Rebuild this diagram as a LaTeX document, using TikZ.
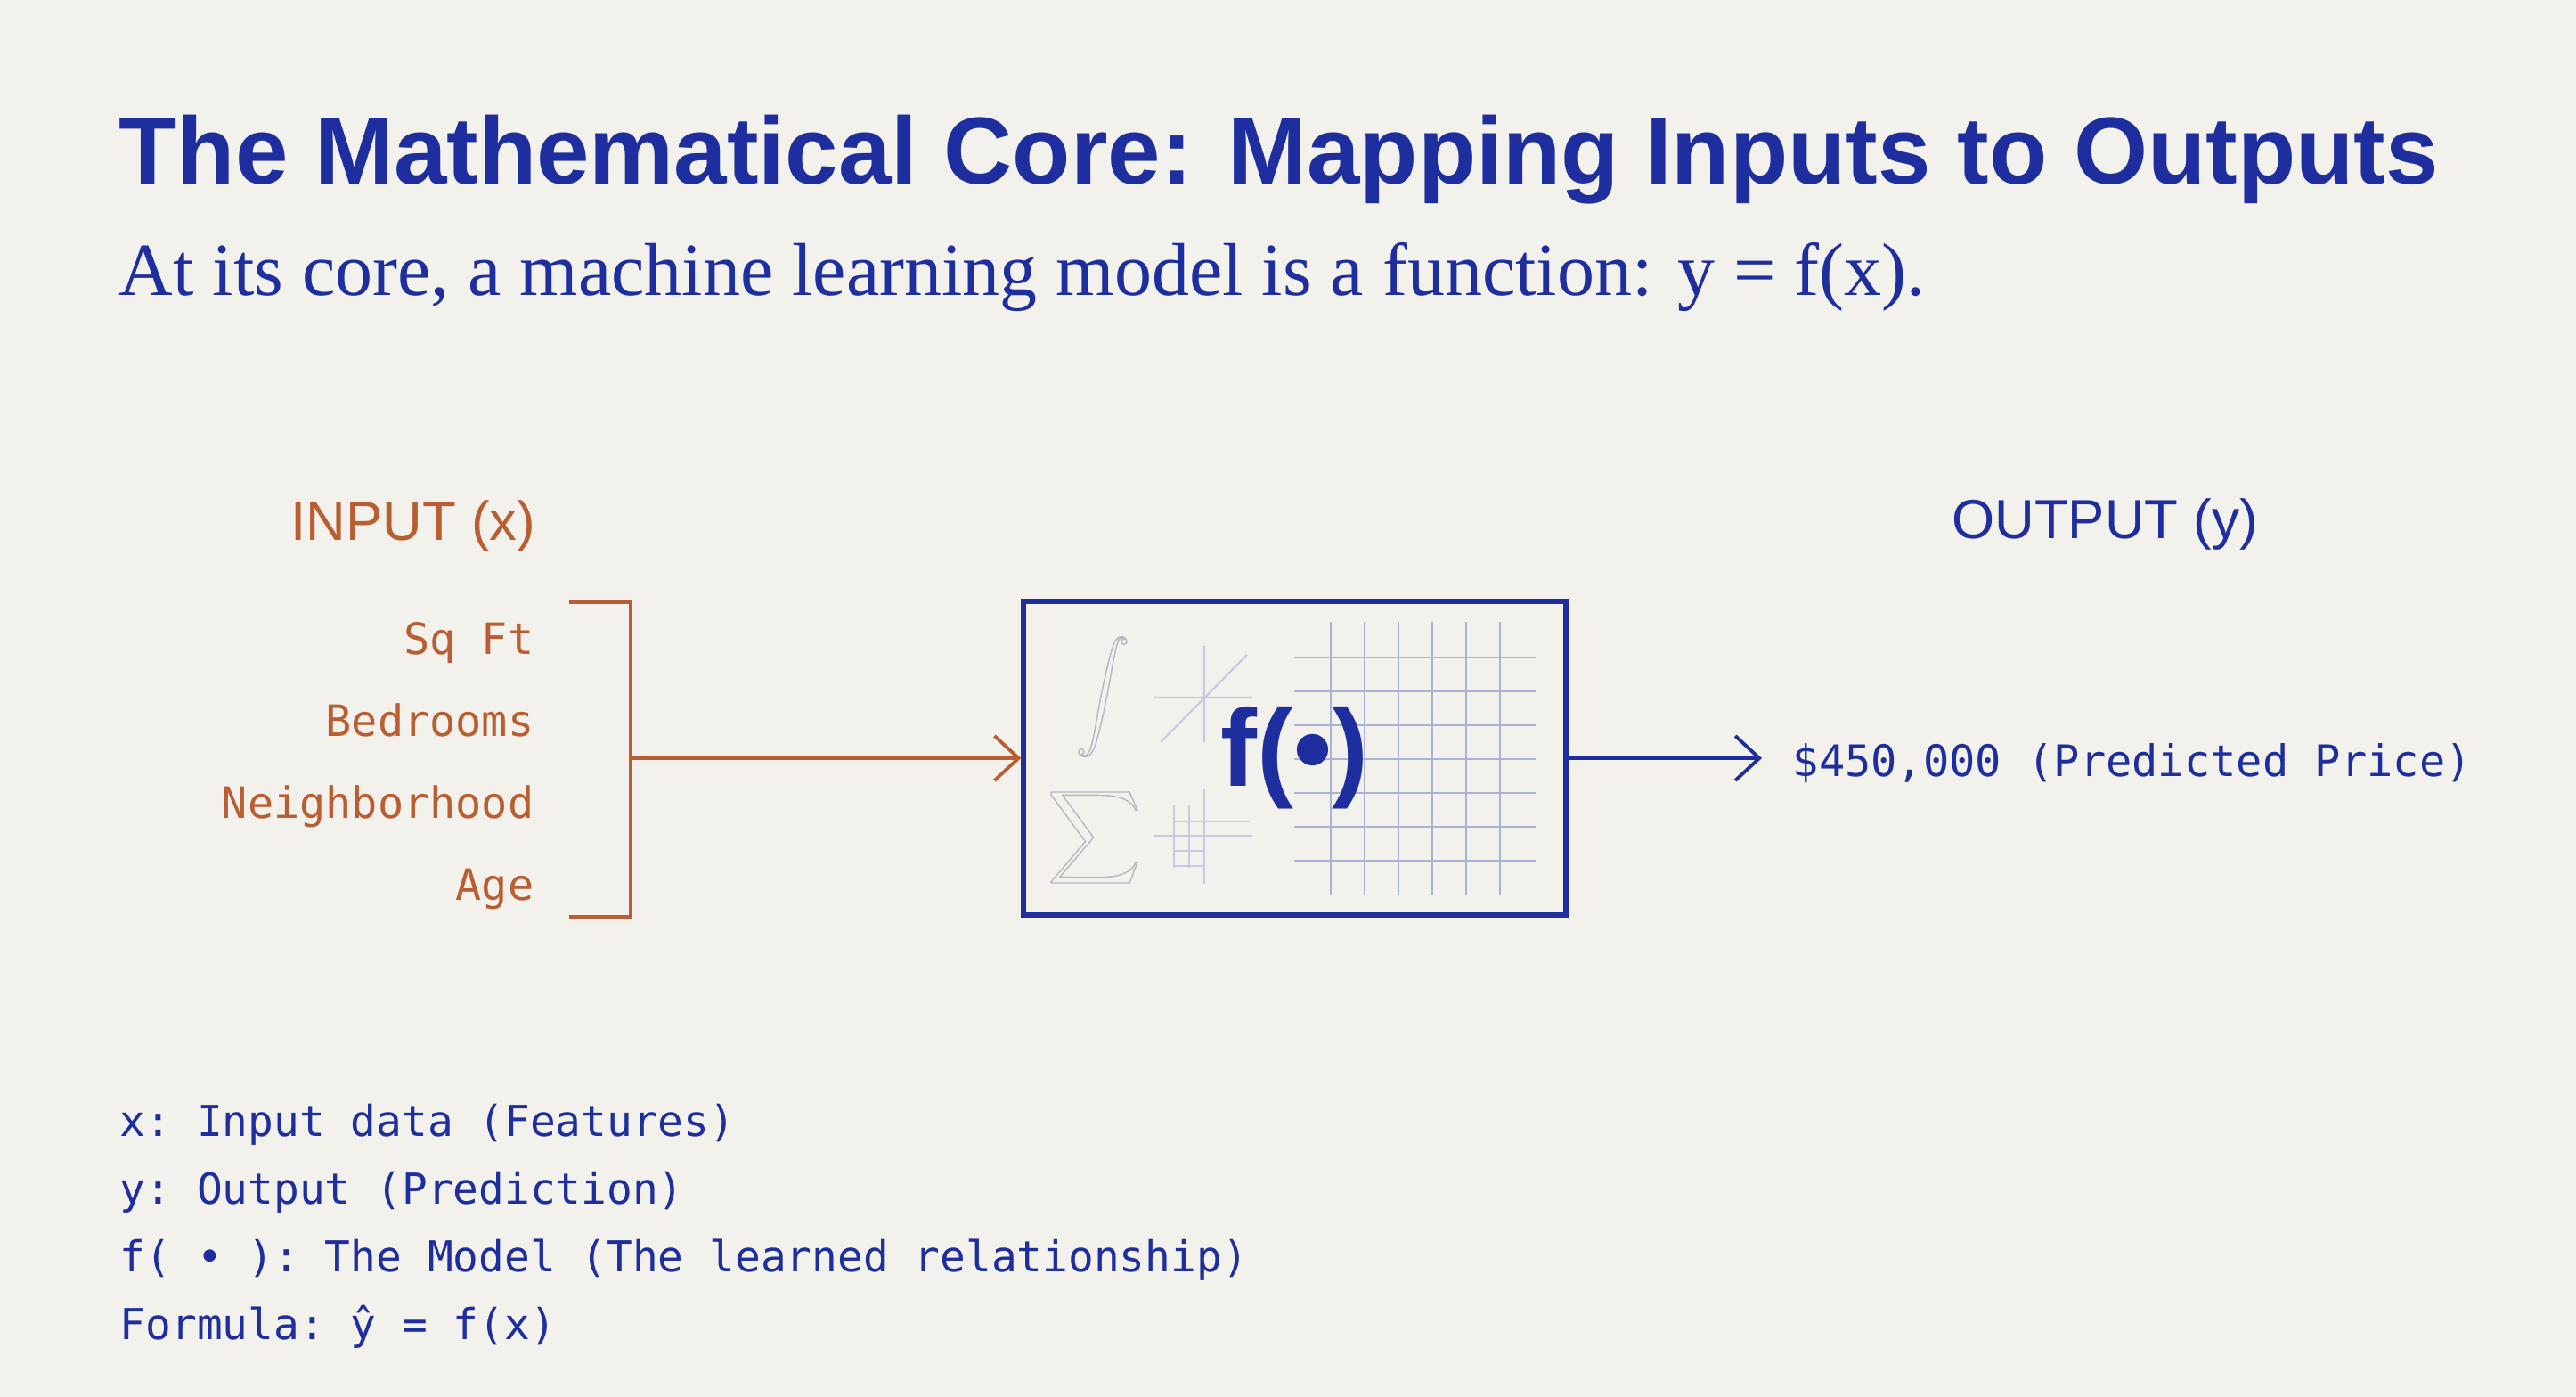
\documentclass[tikz,border=0pt]{standalone}
\usepackage{amsmath}
\usepackage{fontspec}
\setmainfont{Liberation Serif}
\setsansfont{Liberation Sans}
\setmonofont{DejaVu Sans Mono}
\usetikzlibrary{arrows.meta}

\definecolor{paper}{RGB}{242,241,235}
\definecolor{navy}{RGB}{30,46,158}
\definecolor{rust}{RGB}{184,94,50}
\definecolor{sketch}{RGB}{172,178,212}
\definecolor{ghost}{RGB}{180,182,194}

% outlined glyphs for the faint maths symbols
\newcommand{\hollow}[1]{\special{pdf:code 1 Tr 0.4 w}#1\special{pdf:code 0 Tr}}

\begin{document}
\begin{tikzpicture}[
    title/.style={font=\sffamily\bfseries\fontsize{30.4}{36}\selectfont, text=navy, anchor=base west, inner sep=0pt},
    subtitle/.style={font=\rmfamily\fontsize{23.9}{28}\selectfont, text=navy, anchor=base west, inner sep=0pt},
    head/.style={font=\sffamily\fontsize{17.6}{21}\selectfont, inner sep=0pt},
    feat/.style={font=\ttfamily\fontsize{13.8}{16}\selectfont, text=rust, anchor=base east, inner sep=0pt},
    note/.style={font=\ttfamily\fontsize{13.6}{16}\selectfont, text=navy, anchor=base west, inner sep=0pt},
    modelbox/.style={draw=navy, line width=1.5pt, minimum width=6.09cm, minimum height=3.52cm, inner sep=0pt},
    faint/.style={draw=sketch, line width=0.6pt},
    inarrow/.style={draw=rust, line width=1.1pt, -{Straight Barb[length=2.7mm, width=5mm]}},
    outarrow/.style={draw=navy, line width=1.1pt, -{Straight Barb[length=2.7mm, width=5mm]}}
]

\path[use as bounding box, fill=paper] (0,0) rectangle (28.92,15.68);

\node[title] (title) at (1.33,13.61) {The Mathematical Core: Mapping Inputs to Outputs};
\node[subtitle] (sub) at ([yshift=-1.25cm]title.base west) {At its core, a machine learning model is a function: y = f(x).};

% the model block
\node[modelbox] (model) at (14.535,7.17) {};

\foreach \x in {14.94,15.32,...,16.86}
    \draw[faint] (\x,5.63) -- (\x,8.70);
\foreach \y in {6.02,6.40,...,8.32}
    \draw[faint] (14.53,\y) -- (17.24,\y);

\draw[faint, draw=sketch!70] (12.96,7.85) -- (14.06,7.85) (13.52,8.43) -- (13.52,7.35) (13.03,7.35) -- (14.00,8.33);
\draw[faint, draw=sketch!70] (13.18,6.64) -- (13.18,5.94) (13.35,6.64) -- (13.35,5.94) (13.52,6.82) -- (13.52,5.76)
    (13.18,6.46) -- (14.02,6.46) (12.96,6.30) -- (14.06,6.30) (13.18,6.13) -- (13.52,6.13) (13.18,5.96) -- (13.52,5.96);

\node[text=ghost, inner sep=0pt, font=\fontsize{19}{22}\selectfont] (intg) at (12.38,7.86) {\hollow{$\displaystyle\int$}};
\node[text=ghost, inner sep=0pt, font=\fontsize{21}{24}\selectfont] (sumg) at (12.285,6.28) {\hollow{$\displaystyle\sum$}};

\node[font=\sffamily\bfseries\fontsize{35}{40}\selectfont, text=navy] (fdot) at (model.center) {f(•)};

% inputs
\node[head, text=rust, anchor=base east] (inhead) at (6.02,9.61) {INPUT (x)};
\node[feat] (sqft) at (6.00,8.33) {Sq Ft};
\node[feat] (beds) at ([yshift=-0.92cm]sqft.base east) {Bedrooms};
\node[feat] (hood) at ([yshift=-0.92cm]beds.base east) {Neighborhood};
\node[feat] (age) at ([yshift=-0.92cm]hood.base east) {Age};

\coordinate (brtop) at (7.08,8.92);
\coordinate (brbot) at (7.08,5.39);
\coordinate (brjoin) at (model.west -| brtop);
\draw[rust, line width=1.1pt] ([xshift=-0.69cm]brtop) -- (brtop) -- (brbot) -- ([xshift=-0.69cm]brbot);
\draw[inarrow] (brjoin) -- (model.west);

% output
\node[head, text=navy, anchor=base] (outhead) at (23.63,9.63) {OUTPUT (y)};
\node[font=\ttfamily\fontsize{13.85}{16}\selectfont, text=navy, anchor=base west, inner sep=0pt] (price) at (20.12,6.96) {\$450,000 (Predicted Price)};
\draw[outarrow, shorten >=3.4mm] (model.east) -- (model.east -| price.west);

% legend
\node[note] (nx) at (1.34,2.92) {x: Input data (Features)};
\node[note] (ny) at ([yshift=-0.76cm]nx.base west) {y: Output (Prediction)};
\node[note] (nf) at ([yshift=-0.76cm]ny.base west) {f( • ): The Model (The learned relationship)};
\node[note] (nform) at ([yshift=-0.76cm]nf.base west) {Formula: ŷ = f(x)};

\end{tikzpicture}
\end{document}
